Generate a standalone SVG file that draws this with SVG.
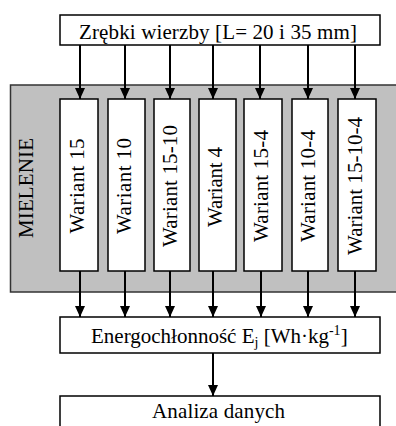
<svg xmlns="http://www.w3.org/2000/svg" width="396" height="426" viewBox="0 0 396 426">
<style>
.box{fill:#fff;stroke:#000;stroke-width:1.5}
.t{font-family:"Liberation Serif",serif;font-size:21px;fill:#000}
.c{stroke:#000;stroke-width:2;fill:none}
</style>
<defs>
<marker id="ah" markerWidth="11" markerHeight="10" refX="11" refY="5" orient="auto" markerUnits="userSpaceOnUse">
<path d="M0,0 L11,5 L0,10 Z" fill="#000"/>
</marker>
</defs>
<rect width="396" height="426" fill="#fff"/>
<g id="mielenie">
<path d="M396,85 H10.5 V292 H396" fill="#c0c0c0" stroke="#333" stroke-width="1.5"/>
<text class="t" transform="translate(33,188) rotate(-90)" text-anchor="middle" textLength="100">MIELENIE</text>
</g>
<g id="zrebki">
<rect class="box" x="60" y="15" width="320" height="30"/>
<text class="t" x="218" y="39" text-anchor="middle" textLength="278">Zrębki wierzby [L= 20 i 35 mm]</text>
</g>
<g id="w15"><rect class="box" x="60" y="99" width="38" height="172"/><text class="t" transform="translate(83.5,186) rotate(-90)" text-anchor="middle" textLength="95">Wariant 15</text></g>
<g id="w10"><rect class="box" x="108" y="99" width="37" height="172"/><text class="t" transform="translate(131,186) rotate(-90)" text-anchor="middle" textLength="96">Wariant 10</text></g>
<g id="w15-10"><rect class="box" x="154" y="99" width="36" height="172"/><text class="t" transform="translate(176.5,186) rotate(-90)" text-anchor="middle" textLength="122">Wariant 15-10</text></g>
<g id="w4"><rect class="box" x="199" y="99" width="37" height="172"/><text class="t" transform="translate(222,187) rotate(-90)" text-anchor="middle" textLength="80">Wariant 4</text></g>
<g id="w15-4"><rect class="box" x="244" y="99" width="38" height="172"/><text class="t" transform="translate(267.5,186) rotate(-90)" text-anchor="middle" textLength="112">Wariant 15-4</text></g>
<g id="w10-4"><rect class="box" x="292" y="99" width="36" height="172"/><text class="t" transform="translate(314.5,186) rotate(-90)" text-anchor="middle" textLength="112">Wariant 10-4</text></g>
<g id="w15-10-4"><rect class="box" x="338" y="99" width="38" height="172"/><text class="t" transform="translate(361.5,186) rotate(-90)" text-anchor="middle" textLength="138">Wariant 15-10-4</text></g>
<g id="energo">
<rect class="box" x="60" y="317" width="320" height="36"/>
<text class="t" x="91" y="343">Energochłonność E<tspan font-size="14" dy="4">j</tspan><tspan dy="-4"> [Wh·kg</tspan><tspan font-size="14" dy="-8">-1</tspan><tspan dy="8">]</tspan></text>
</g>
<g id="analiza">
<rect class="box" x="60" y="396" width="320" height="40"/>
<text class="t" x="218.5" y="418" text-anchor="middle" textLength="133">Analiza danych</text>
</g>
<g id="connectors">
<line class="c" x1="80" y1="45" x2="80" y2="99" marker-end="url(#ah)"/>
<line class="c" x1="125" y1="45" x2="125" y2="99" marker-end="url(#ah)"/>
<line class="c" x1="170" y1="45" x2="170" y2="99" marker-end="url(#ah)"/>
<line class="c" x1="213" y1="45" x2="213" y2="99" marker-end="url(#ah)" stroke-width="3"/>
<line class="c" x1="260" y1="45" x2="260" y2="99" marker-end="url(#ah)"/>
<line class="c" x1="308" y1="45" x2="308" y2="99" marker-end="url(#ah)"/>
<line class="c" x1="355" y1="45" x2="355" y2="99" marker-end="url(#ah)"/>
<line class="c" x1="80" y1="271" x2="80" y2="317" marker-end="url(#ah)"/>
<line class="c" x1="125" y1="271" x2="125" y2="317" marker-end="url(#ah)"/>
<line class="c" x1="170" y1="271" x2="170" y2="317" marker-end="url(#ah)"/>
<line class="c" x1="213" y1="271" x2="213" y2="317" marker-end="url(#ah)"/>
<line class="c" x1="261" y1="271" x2="261" y2="317" marker-end="url(#ah)" stroke-width="3"/>
<line class="c" x1="308" y1="271" x2="308" y2="317" marker-end="url(#ah)"/>
<line class="c" x1="355" y1="271" x2="355" y2="317" marker-end="url(#ah)"/>
<line class="c" x1="213" y1="353" x2="213" y2="396" marker-end="url(#ah)"/>
</g>
</svg>
